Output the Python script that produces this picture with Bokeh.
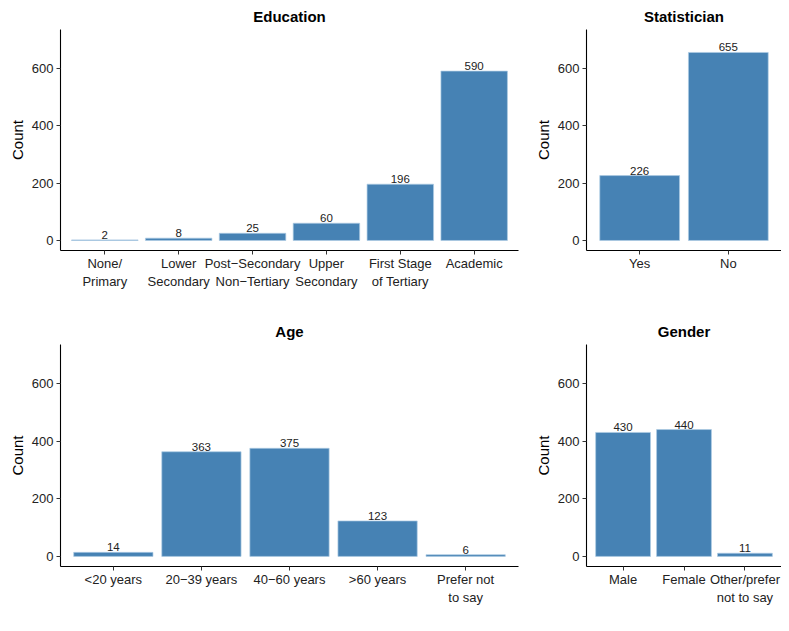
from bokeh.plotting import figure
from bokeh.models import Range1d, FactorRange, ColumnDataSource, LabelSet, FixedTicker
from bokeh.layouts import column, row
from bokeh.core.properties import value
from bokeh.embed import file_html
from bokeh.resources import INLINE

edu_cats = ["None/\nPrimary", "Lower\nSecondary", "Post\u2212Secondary\nNon\u2212Tertiary",
            "Upper\nSecondary", "First Stage\nof Tertiary", "Academic"]
edu_vals = [2, 8, 25, 60, 196, 590]

stat_cats = ["Yes", "No"]
stat_vals = [226, 655]

age_cats = ["<20 years", "20\u221239 years", "40\u221260 years", ">60 years", "Prefer not\nto say"]
age_vals = [14, 363, 375, 123, 6]

gen_cats = ["Male", "Female", "Other/prefer\nnot to say"]
gen_vals = [430, 440, 11]

y_ticks = [0, 200, 400, 600]
FONT = "Liberation Sans"
BAR = "#4682B4"


def panel(title, cats, vals, fw, fh, bl, br, bt, bb):
    p = figure(x_range=FactorRange(*cats, range_padding=0.1, range_padding_units="absolute"),
               y_range=Range1d(-35, 735), frame_width=fw, frame_height=fh,
               output_backend="svg", toolbar_location=None,
               min_border_left=bl, min_border_right=br, min_border_top=bt, min_border_bottom=bb)
    src = ColumnDataSource(dict(x=cats, top=vals, lab=[str(v) for v in vals]))
    p.vbar(x="x", top="top", bottom=0, width=0.9, source=src,
           fill_color=BAR, line_color="#aecbe4", line_width=0.7)
    labels = LabelSet(x="x", y="top", text="lab", source=src, text_align="center",
                      text_baseline="bottom", y_offset=1, text_font_size="11.5px",
                      text_color="#222222", text_font=value(FONT))
    p.add_layout(labels)
    p.title.text = title
    p.title.align = "center"
    p.title.text_font = FONT
    p.title.text_font_size = "15px"
    p.title.text_font_style = "bold"
    p.title.text_color = "#000000"
    p.title.standoff = 10
    p.xgrid.visible = False
    p.ygrid.visible = False
    p.outline_line_color = None
    p.yaxis.ticker = FixedTicker(ticks=y_ticks)
    p.yaxis.minor_tick_line_color = None
    p.yaxis.axis_label = "Count"
    p.yaxis.axis_label_text_font = FONT
    p.yaxis.axis_label_text_font_style = "normal"
    p.yaxis.axis_label_text_font_size = "15px"
    p.yaxis.axis_label_text_color = "#000000"
    p.yaxis.axis_label_standoff = 3
    for ax in (p.xaxis, p.yaxis):
        ax.axis_line_color = "#000000"
        ax.axis_line_width = 1.1
        ax.major_tick_line_color = "#333333"
        ax.major_tick_in = 0
        ax.major_tick_out = 4
        ax.major_label_text_font = FONT
        ax.major_label_text_font_size = "13px"
        ax.major_label_text_color = "#222222"
        ax.major_label_standoff = 3
    p.xaxis.major_label_standoff = 1
    return p


p1 = panel("Education", edu_cats, edu_vals, 458, 221, 60, 13, 28, 50)
p2 = panel("Statistician", stat_cats, stat_vals, 195, 221, 52, 0, 28, 50)
p3 = panel("Age", age_cats, age_vals, 458, 222, 60, 13, 44, 40)
p4 = panel("Gender", gen_cats, gen_vals, 195, 222, 52, 0, 44, 40)

layout = column(row(p1, p2, spacing=0), row(p3, p4, spacing=0), spacing=0)
open("out.html", "w").write(file_html(layout, INLINE))
